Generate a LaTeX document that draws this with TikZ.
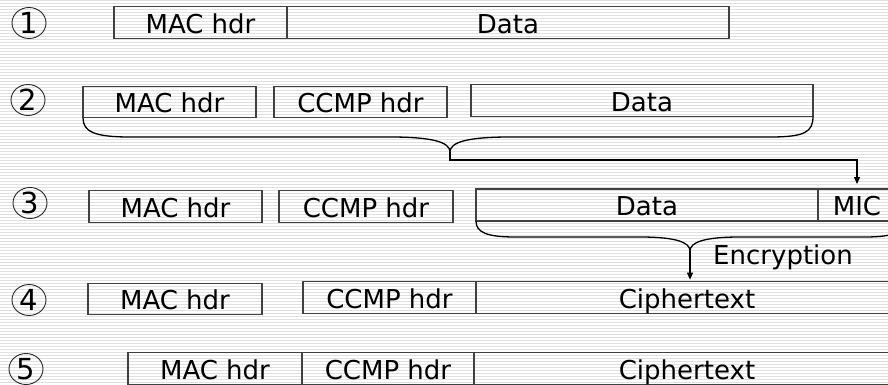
\documentclass[tikz,border=0pt]{standalone}
\usepackage{fontspec}
\setmainfont{DejaVu Sans}
\usetikzlibrary{shapes.geometric,arrows.meta}
\tikzset{
  fld/.style={draw=black!75, line width=1.1pt, inner sep=0pt, outer sep=0pt,
    font=\fontsize{26}{30}\selectfont, text height=26.5pt, text depth=5.2pt},
  numc/.style={ellipse, draw=black!85, line width=0.9pt, minimum width=34pt, minimum height=31pt,
    inner sep=0pt, font=\fontsize{29}{32}\selectfont},
  lbl/.style={inner sep=0pt, font=\fontsize{26}{30}\selectfont, text height=26.5pt, text depth=5.2pt},
  brace/.style={draw=black, line width=1.3pt},
  arr/.style={draw=black, line width=1.2pt, -{Triangle[length=7pt,width=6pt]}},
  stripe/.style={draw=black!12, line width=1pt}
}
\begin{document}
\begin{tikzpicture}[x=1pt,y=-1pt]
\useasboundingbox (0,0) rectangle (888,385);
\clip (0,0) rectangle (888,385);
\fill[white] (0,0) rectangle (888,385);
\foreach \yy in {1,4,...,385} \draw[stripe] (0,\yy) -- (888,\yy);

% numbers
\node[numc] (n1) at (29,23) {1};
\node[numc] (n2) at (28,100) {2};
\node[numc] (n3) at (30,203) {3};
\node[numc] (n4) at (29,300) {4};
\node[numc] (n5) at (26,369) {5};

% row 1
\node[fld, minimum width=173pt, minimum height=29pt] (mac1) at (200.5,22.5) {MAC hdr};
\node[fld, minimum width=442pt, minimum height=29pt] (data1) at (508,22.5) {Data};

% row 2
\node[fld, minimum width=173pt, minimum height=28pt] (mac2) at (169.5,102) {MAC hdr};
\node[fld, minimum width=173pt, minimum height=28pt] (ccmp2) at (360.5,102) {CCMP hdr};
\node[fld, minimum width=342pt, minimum height=31pt] (data2) at (642,100.5) {Data};

% row 3
\node[fld, minimum width=173pt, minimum height=29pt] (mac3) at (175.5,206.5) {MAC hdr};
\node[fld, minimum width=174pt, minimum height=29pt] (ccmp3) at (366,206.5) {CCMP hdr};
\node[fld, minimum width=342pt, minimum height=32pt] (data3) at (647,205) {Data};
\node[fld, minimum width=78pt, minimum height=32pt] (mic3) at (857,205) {MIC};

% row 4
\node[fld, minimum width=174pt, minimum height=28pt] (mac4) at (175,299) {MAC hdr};
\node[fld, minimum width=173pt, minimum height=31pt] (ccmp4) at (389.5,297.5) {CCMP hdr};
\node[fld, minimum width=422pt, minimum height=31pt] (ct4) at (687,297.5) {Ciphertext};

% row 5
\node[fld, minimum width=174pt, minimum height=31pt] (mac5) at (215,368.5) {MAC hdr};
\node[fld, minimum width=172pt, minimum height=31pt] (ccmp5) at (388,368.5) {CCMP hdr};
\node[fld, minimum width=426pt, minimum height=31pt] (ct5) at (687,368.5) {Ciphertext};

% braces
\coordinate (tipA) at (450,152);
\coordinate (tipB) at (690,251);
\draw[brace] (mac2.south west) .. controls (83,132) and (95,137) .. (130,137)
  -- (390,137) .. controls (432,137) and (450,142) .. (tipA)
  .. controls (450,142) and (468,137) .. (510,137)
  -- (770,137) .. controls (805,137) and (813,132) .. (data2.south east);
\draw[brace] (data3.south west) .. controls (476,232) and (486,237) .. (515,237)
  -- (640,237) .. controls (675,237) and (690,242) .. (tipB)
  .. controls (690,242) and (705,237) .. (740,237)
  -- (865,237) .. controls (894,237) and (904,232) .. (904,221);

\node[lbl] (enc) at (783,254) {Encryption};

% connectors
\draw[arr, shorten >=5pt] (tipA) -- ++(0,8) -| (mic3.north);
\draw[arr, shorten >=2pt] (tipB) -- (tipB |- ct4.north);
\end{tikzpicture}
\end{document}
